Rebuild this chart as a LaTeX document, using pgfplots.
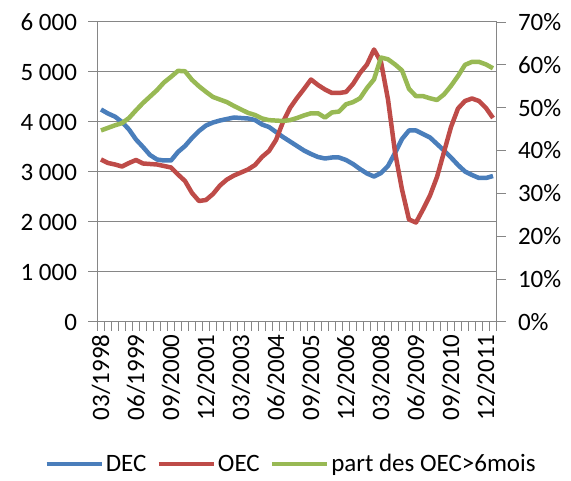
\documentclass[border=0pt]{standalone}
\usepackage{pgfplots}
\usepackage{pgfplotstable}
\pgfplotsset{compat=1.18}
\usepackage{fontspec}
\setmainfont{Carlito}
\definecolor{cdec}{HTML}{4A7EBB}
\definecolor{coec}{HTML}{BE4B48}
\definecolor{cpart}{HTML}{98B954}
\definecolor{cgrid}{HTML}{868686}

\pgfplotstableread{
i dec oec
0 4250 3250
1 4170 3180
2 4107 3150
3 4000 3110
4 3850 3180
5 3650 3240
6 3500 3170
7 3340 3160
8 3250 3150
9 3230 3120
10 3230 3090
11 3400 2950
12 3520 2820
13 3680 2580
14 3820 2420
15 3930 2440
16 3990 2560
17 4030 2730
18 4060 2850
19 4090 2930
20 4080 2990
21 4070 3050
22 4040 3140
23 3950 3300
24 3900 3420
25 3800 3640
26 3700 4000
27 3610 4280
28 3520 4480
29 3430 4660
30 3360 4850
31 3300 4740
32 3270 4650
33 3290 4580
34 3290 4580
35 3240 4600
36 3160 4760
37 3060 4980
38 2970 5150
39 2910 5450
40 2980 5200
41 3120 4450
42 3380 3400
43 3660 2650
44 3830 2050
45 3830 1990
46 3760 2250
47 3690 2530
48 3560 2900
49 3430 3400
50 3290 3900
51 3140 4270
52 3010 4420
53 2940 4470
54 2880 4420
55 2880 4280
56 2920 4080
}\tabdecoec

\pgfplotstableread{
i part
0 44.7
1 45.3
2 45.9
3 46.4
4 47.6
5 49.4
6 51.1
7 52.6
8 54.1
9 55.9
10 57.2
11 58.6
12 58.5
13 56.5
14 55.0
15 53.7
16 52.5
17 51.9
18 51.3
19 50.4
20 49.6
21 48.8
22 48.3
23 47.5
24 47.1
25 47.0
26 46.9
27 47.1
28 47.6
29 48.2
30 48.7
31 48.7
32 47.7
33 48.9
34 49.1
35 50.8
36 51.3
37 52.2
38 54.6
39 56.6
40 61.7
41 61.3
42 60.1
43 58.7
44 54.4
45 52.7
46 52.7
47 52.2
48 51.8
49 53.1
50 55.1
51 57.4
52 60.0
53 60.7
54 60.7
55 60.1
56 59.2
}\tabpart

\begin{document}
\begin{tikzpicture}[x=1pt,y=1pt]
\useasboundingbox (0,0) rectangle (571,481);
\pgfplotsset{
  common/.style={
    at={(97.5pt,159pt)}, anchor=south west,
    scale only axis, width=399pt, height=300pt,
    xmin=-0.5, xmax=56.5,
    tick align=outside,
    major tick length=9pt,
    tick style={cgrid, line width=1pt},
    axis line style={cgrid, line width=1pt},
    tick label style={font=\fontsize{25}{30}\selectfont, black},
    /pgf/number format/assume math mode=true,
  },
}
\begin{axis}[common,
  ymin=0, ymax=6000,
  axis x line*=bottom, axis y line*=left,
  ytick={0,1000,...,6000},
  yticklabels={0,{1 000},{2 000},{3 000},{4 000},{5 000},{6 000}},
  yticklabel shift=8pt,
  ymajorgrids, grid style={cgrid, line width=1pt},
  xtick={-0.5,0.5,...,56.5},
  xticklabels={},
  extra x ticks={0,5,...,55},
  extra x tick labels={03/1998,06/1999,09/2000,12/2001,03/2003,06/2004,09/2005,12/2006,03/2008,06/2009,09/2010,12/2011},
  extra x tick style={xtick style={draw=none}, grid=none},
  xticklabel style={rotate=90, anchor=east},
  legend style={at={(0.485,-0.473)}, anchor=center, draw=none, fill=none,
    legend columns=3, font=\fontsize{25}{30}\selectfont,
    /tikz/every even column/.append style={column sep=8pt},
    nodes={inner sep=2pt}},
  legend image code/.code={\draw[#1] (0pt,0pt) -- (55pt,0pt);},
]
\addplot[cdec, line width=4.5pt, line join=round] table[x=i, y=dec] {\tabdecoec};
\addlegendentry{DEC}
\addplot[coec, line width=4.5pt, line join=round] table[x=i, y=oec] {\tabdecoec};
\addlegendentry{OEC}
\addlegendimage{cpart, line width=4.5pt}
\addlegendentry{part des OEC>6mois}
\end{axis}
\begin{axis}[common,
  ymin=0, ymax=70,
  axis x line=none, axis y line*=right,
  ytick={0,10,...,70},
  yticklabels={0\%,10\%,20\%,30\%,40\%,50\%,60\%,70\%},
  yticklabel shift=9pt,
]
\addplot[cpart, line width=4.5pt, line join=round] table[x=i, y=part] {\tabpart};
\end{axis}
\end{tikzpicture}
\end{document}
